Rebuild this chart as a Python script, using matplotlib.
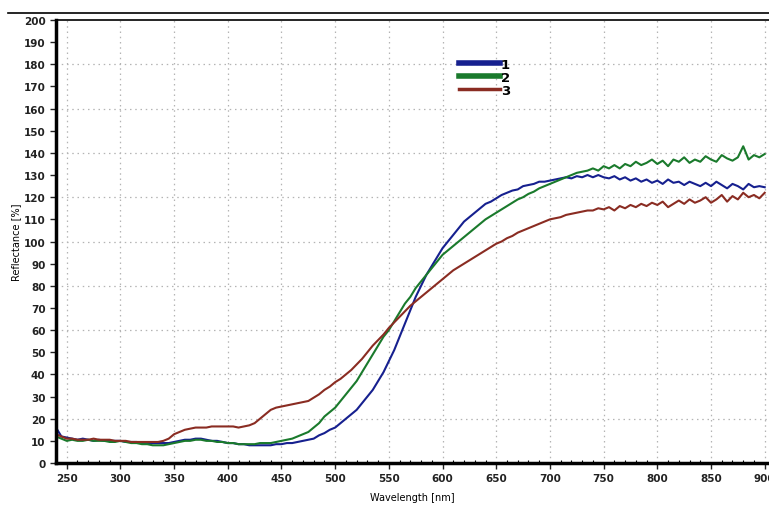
import numpy as np
import matplotlib.pyplot as plt
from matplotlib.lines import Line2D
from matplotlib.ticker import MultipleLocator

wavelength = np.arange(240, 901, 5)

refl_1 = [16, 12, 11.5, 11, 10.5, 11, 10.5, 10, 10.5, 10,
          10, 10, 10, 9.5, 9.5, 9.5, 9, 9, 9, 9,
          9, 9, 9.5, 10, 10.5, 10.5, 11, 11, 10.5, 10,
          10, 9.5, 9, 9, 8.5, 8.5, 8, 8, 8, 8,
          8, 8.5, 8.5, 9, 9, 9.5, 10, 10.5, 11, 12.5,
          13.5, 15, 16, 18, 20, 22, 24, 27, 30, 33,
          37, 41, 46, 51, 57, 63, 69, 75, 80, 85,
          89, 93, 97, 100, 103, 106, 109, 111, 113, 115,
          117, 118, 119.5, 121, 122, 123, 123.5, 125, 125.5, 126,
          127, 127, 127.5, 128, 128.5, 129, 128.5, 129.5, 129, 130,
          129, 130, 129, 128.5, 129.5, 128, 129, 127.5, 128.5, 127,
          128, 126.5, 127.5, 126, 128, 126.5, 127, 125.5, 127, 126,
          125, 126.5, 125, 127, 125.5, 124, 126, 125, 123.5, 126,
          124.5, 125, 124.5]

refl_2 = [12, 11, 10, 10.5, 10, 10, 10.5, 10, 10, 10,
          9.5, 9.5, 10, 9.5, 9, 9, 8.5, 8.5, 8, 8,
          8, 8.5, 9, 9.5, 10, 10, 10.5, 10.5, 10, 10,
          9.5, 9.5, 9, 9, 8.5, 8.5, 8.5, 8.5, 9, 9,
          9, 9.5, 10, 10.5, 11, 12, 13, 14, 16, 18,
          21, 23, 25, 28, 31, 34, 37, 41, 45, 49,
          53, 57, 60, 64, 68, 72, 75, 79, 82, 85,
          88, 91, 94, 96, 98, 100, 102, 104, 106, 108,
          110, 111.5, 113, 114.5, 116, 117.5, 119, 120, 121.5, 122.5,
          124, 125, 126, 127, 128, 129, 130, 131, 131.5, 132,
          133, 132, 134, 133, 134.5, 133, 135, 134, 136, 134.5,
          135.5, 137, 135, 136.5, 134, 137, 136, 138, 135.5, 137,
          136, 138.5, 137, 136, 139, 137.5, 136.5, 138, 143, 137,
          139, 138, 139.5]

refl_3 = [13, 12, 11, 11, 10.5, 10.5, 10.5, 11, 10.5, 10.5,
          10.5, 10, 10, 10, 9.5, 9.5, 9.5, 9.5, 9.5, 9.5,
          10, 11, 13, 14, 15, 15.5, 16, 16, 16, 16.5,
          16.5, 16.5, 16.5, 16.5, 16, 16.5, 17, 18, 20, 22,
          24, 25, 25.5, 26, 26.5, 27, 27.5, 28, 29.5, 31,
          33, 34.5, 36.5, 38, 40, 42, 44.5, 47, 50, 53,
          55.5, 58, 61, 63.5, 66, 68.5, 71, 73, 75, 77,
          79, 81, 83, 85, 87, 88.5, 90, 91.5, 93, 94.5,
          96, 97.5, 99, 100, 101.5, 102.5, 104, 105, 106, 107,
          108, 109, 110, 110.5, 111, 112, 112.5, 113, 113.5, 114,
          114, 115, 114.5, 115.5, 114, 116, 115, 116.5, 115.5, 117,
          116, 117.5, 116.5, 118, 115.5, 117, 118.5, 117, 119, 117.5,
          118.5, 120, 117.5, 119, 121, 118, 120.5, 119, 122, 120,
          121, 119.5, 122]

labels = ['1', '2', '3']
colors = ['#16208f', '#1a7a2c', '#8a2c22']

fig = plt.figure(figsize=(7.69, 5.06), dpi=100)
ax = fig.add_axes([0.0728, 0.083, 0.9272, 0.8755])

for y, lab, c in zip([refl_1, refl_2, refl_3], labels, colors):
    ax.plot(wavelength, y, color=c, lw=1.5, label=lab)

ax.set_xlim(240, 904)
ax.set_ylim(0, 200)
ax.xaxis.set_major_locator(MultipleLocator(50))
ax.xaxis.set_minor_locator(MultipleLocator(10))
ax.yaxis.set_major_locator(MultipleLocator(10))

# grid: x every 50, y every 20
ax.grid(axis='x', color='#b4b4b4', ls=(0, (1.2, 3)), lw=0.9)
for g in range(20, 200, 20):
    ax.axhline(g, color='#b4b4b4', ls=(0, (1.2, 3)), lw=0.9, zorder=0)

ax.spines['left'].set_linewidth(2.5)
ax.spines['bottom'].set_linewidth(2.5)
ax.spines['top'].set_linewidth(1.2)
ax.spines['right'].set_visible(False)

ax.tick_params(axis='both', which='major', length=4, width=1, labelsize=7.5,
               colors='#222222')
ax.tick_params(axis='x', which='minor', direction='in', length=2.5, width=0.8)
for t in ax.get_xticklabels() + ax.get_yticklabels():
    t.set_fontweight('bold')

ax.set_xlabel('Wavelength [nm]', fontsize=7, labelpad=6)
ax.set_ylabel('Reflectance [%]', fontsize=7, labelpad=2)

leg = ax.legend(loc='upper left', bbox_to_anchor=(0.552, 0.935), frameon=False,
                handlelength=3.1, handletextpad=0.1, labelspacing=0.0,
                borderpad=0.2, prop={'weight': 'bold', 'size': 9.5})
for h, w in zip(leg.get_lines(), [4, 4, 2.5]):
    h.set_linewidth(w)

fig.add_artist(Line2D([0.01, 1.0], [1 - 14 / 506, 1 - 14 / 506],
                      color='black', lw=1.2))

fig.savefig('out.png', dpi=100)
